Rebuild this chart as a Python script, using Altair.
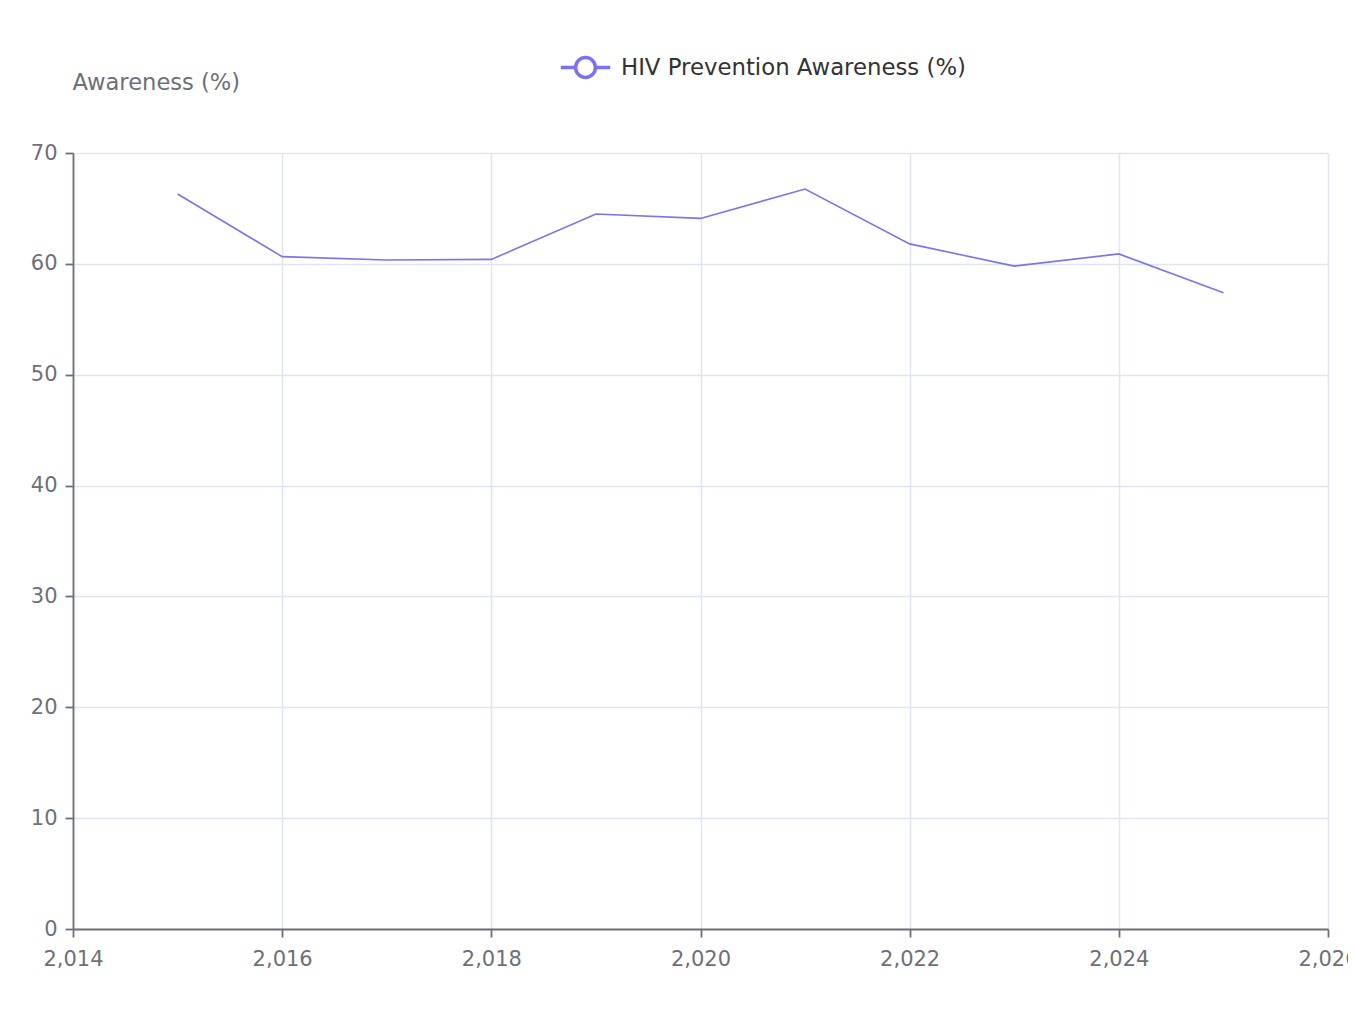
import altair as alt
import pandas as pd

years = [2015, 2016, 2017, 2018, 2019, 2020, 2021, 2022, 2023, 2024, 2025]
awareness = [66.3, 60.65, 60.35, 60.4, 64.5, 64.1, 66.75, 61.8, 59.8, 60.9, 57.4]
series_name = "HIV Prevention Awareness (%)"
line_color = "#7B73F5"
axis_color = "#6E7079"
grid_color = "#E0E6F1"
font = "DejaVu Sans"

df = pd.DataFrame({"year": years, "value": awareness, "series": [series_name] * len(years)})

legend_symbol = ("M-1,0 L-0.4,0 M0.4,0 L1,0 "
                 "M0.4,0 A0.4,0.4 0 1,1 -0.4,0 A0.4,0.4 0 1,1 0.4,0 Z")

common_axis = dict(grid=True, gridColor=grid_color, gridWidth=1.6,
                   domainColor=axis_color, domainWidth=1.8,
                   tickColor=axis_color, tickWidth=1.8, tickSize=8,
                   labelColor=axis_color, labelFontSize=21, labelFont=font)

chart = alt.Chart(df).mark_line(strokeWidth=1.6).encode(
    x=alt.X("year:Q",
            scale=alt.Scale(domain=[2014, 2026], nice=False, zero=False),
            axis=alt.Axis(title=None, values=list(range(2014, 2027, 2)), format=",d",
                          labelPadding=11, labelFlush=False, labelOverlap=False,
                          **common_axis)),
    y=alt.Y("value:Q",
            scale=alt.Scale(domain=[0, 70], nice=False),
            axis=alt.Axis(title="Awareness (%)", values=list(range(0, 71, 10)),
                          labelPadding=8,
                          titleAngle=0, titleAlign="left", titleBaseline="middle",
                          titleX=-1, titleY=-71, titleColor=axis_color,
                          titleFontSize=22.6, titleFontWeight="normal", titleFont=font,
                          **common_axis)),
    color=alt.Color("series:N",
                    scale=alt.Scale(domain=[series_name], range=[line_color]),
                    legend=alt.Legend(title=None, orient="none", legendX=486, legendY=-112,
                                      symbolType=legend_symbol, symbolSize=2450,
                                      symbolStrokeWidth=3.5, symbolFillColor="white",
                                      symbolStrokeColor=line_color,
                                      labelFontSize=22.8, labelColor="#333333",
                                      labelFont=font, labelOffset=9,
                                      labelLimit=600)),
).properties(
    width=1255, height=776,
    autosize=alt.AutoSizeParams(type="none"),
    padding={"left": 65, "top": 145, "right": 20, "bottom": 60},
).configure_view(stroke=None)

chart.save("out.html", embed_options={"renderer": "svg", "actions": False})
